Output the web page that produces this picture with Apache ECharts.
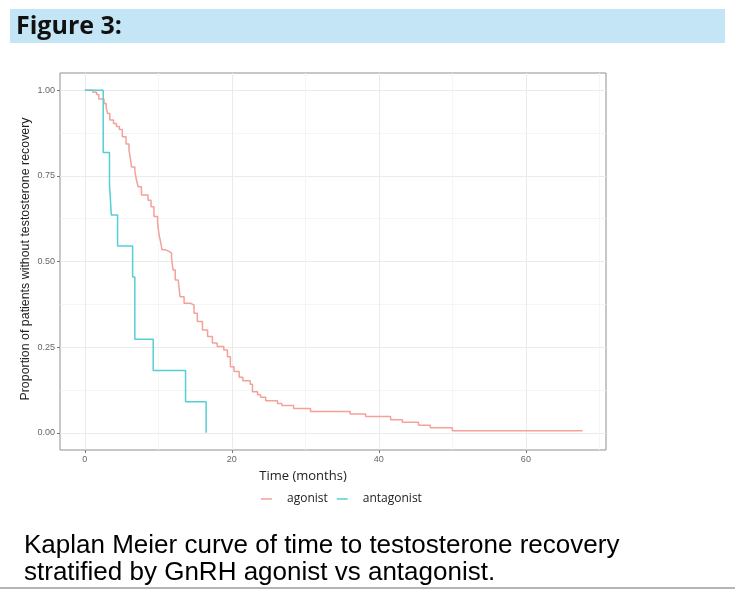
<!DOCTYPE html>
<html>
<head>
<meta charset="utf-8">
<script src="https://cdn.jsdelivr.net/npm/echarts@6.0.0/dist/echarts.min.js"></script>
<style>
html, body { margin: 0; padding: 0; background: #fff; }
#km_recovery { width: 735px; height: 590px; }
</style>
</head>
<body>
<div id="km_recovery"></div>
<script>
// values (time in months, proportion without recovery)
var agonistTime = [0, 1.1, 1.6, 1.9, 2.6, 2.9, 3.1, 3.4, 3.9, 4.3, 4.7, 5.1, 5.6, 6.0, 6.2, 6.35, 6.8, 7.0, 7.25, 7.7,
    8.6, 9.0, 9.4, 9.9, 10.1, 10.3, 10.5, 11.0, 11.5, 11.8, 12.0, 12.3, 12.7, 12.95, 13.5, 14.4, 14.85, 15.3, 16.0, 16.7,
    17.35, 18.0, 18.9, 19.4, 19.8, 20.3, 21.0, 21.5, 22.5, 22.8, 23.5, 23.9, 24.6, 26.2, 26.8, 28.4, 30.7, 36.1, 38.2,
    41.6, 43.2, 45.4, 47.0, 50.0, 67.7];
var agonistSurv = [1, 0.994, 0.987, 0.974, 0.961, 0.949, 0.932, 0.913, 0.903, 0.894, 0.885, 0.864, 0.843, 0.825, 0.80, 0.776, 0.764, 0.74, 0.718, 0.694,
    0.679, 0.660, 0.631, 0.611, 0.577, 0.558, 0.534, 0.529, 0.524, 0.509, 0.475, 0.446, 0.441, 0.397, 0.378, 0.373, 0.349, 0.325, 0.300, 0.281,
    0.262, 0.252, 0.242, 0.222, 0.193, 0.179, 0.162, 0.152, 0.142, 0.120, 0.111, 0.104, 0.094, 0.086, 0.080, 0.071, 0.062, 0.055, 0.048,
    0.038, 0.031, 0.022, 0.015, 0.006, 0.006];

var antagonistTime = [0, 2.5, 3.35, 3.6, 4.45, 6.5, 6.8, 9.3, 13.7, 16.5];
var antagonistSurv = [1, 0.818, 0.727, 0.636, 0.545, 0.455, 0.273, 0.182, 0.091, 0];

var groupNames = ['agonist', 'antagonist'];
var xTicks = [0, 20, 40, 60];
var xMinor = [10, 30, 50, 70];
var yTicks = [0, 0.25, 0.5, 0.75, 1];
var yMinor = [0.125, 0.375, 0.625, 0.875];

var km_plot = function()
{
    var pairs = function(t, s) {
        var out = [];
        for (var i = 0; i < t.length; i++) {
            out.push([t[i], s[i]]);
        }
        return out;
    };

    var draw_km = function() {
        var myChart = echarts.init(document.getElementById('km_recovery'));
        var gridLine = { show: true, lineStyle: { color: '#ebebeb', width: 1 } };
        var minorLine = { show: true, lineStyle: { color: '#f3f3f3', width: 0.8 } };
        var option = {
            backgroundColor: '#fff',
            animation: false,
            color: ['#f3a199', '#55cfd3'],
            grid: {
                left: 60,
                top: 73,
                width: 546,
                height: 377,
                show: true,
                borderColor: '#8f8f8f',
                borderWidth: 1
            },
            legend: {
                data: groupNames,
                left: 256,
                top: 488,
                icon: 'rect',
                itemWidth: 11,
                itemHeight: 1.5,
                itemGap: 9,
                textStyle: {
                    fontFamily: 'Open Sans',
                    fontSize: 12,
                    color: '#222',
                    padding: [0, 0, 0, 10]
                }
            },
            xAxis: [
                {
                    type: 'value',
                    min: -3.38,
                    max: 70.9,
                    axisLine: { show: false, onZero: false },
                    axisTick: { show: true, length: 3, lineStyle: { color: '#777' }, customValues: xTicks },
                    axisLabel: { customValues: xTicks, fontSize: 9, color: '#666', margin: 5, fontFamily: 'Liberation Sans' },
                    splitLine: gridLine
                },
                {
                    type: 'value',
                    min: -3.38,
                    max: 70.9,
                    position: 'bottom',
                    axisLine: { show: false, onZero: false },
                    axisTick: { show: false, customValues: xMinor },
                    axisLabel: { show: false, customValues: xMinor },
                    splitLine: minorLine
                }
            ],
            yAxis: [
                {
                    type: 'value',
                    min: -0.05,
                    max: 1.05,
                    axisLine: { show: false, onZero: false },
                    axisTick: { show: true, length: 3, lineStyle: { color: '#777' }, customValues: yTicks },
                    axisLabel: {
                        customValues: yTicks, fontSize: 9, color: '#666', margin: 5, fontFamily: 'Liberation Sans',
                        formatter: function (v) { return v.toFixed(2); }
                    },
                    splitLine: gridLine
                },
                {
                    type: 'value',
                    min: -0.05,
                    max: 1.05,
                    position: 'left',
                    axisLine: { show: false, onZero: false },
                    axisTick: { show: false, customValues: yMinor },
                    axisLabel: { show: false, customValues: yMinor },
                    splitLine: minorLine
                }
            ],
            series: [
                {
                    name: groupNames[0],
                    type: 'line',
                    step: 'end',
                    showSymbol: false,
                    lineStyle: { width: 1.5 },
                    data: pairs(agonistTime, agonistSurv)
                },
                {
                    name: groupNames[1],
                    type: 'line',
                    step: 'end',
                    showSymbol: false,
                    lineStyle: { width: 1.5 },
                    data: pairs(antagonistTime, antagonistSurv)
                }
            ],
            graphic: [
                { type: 'rect', shape: { x: 10, y: 9, width: 715, height: 34 }, style: { fill: '#c3e5f5' } },
                { type: 'text', x: 16, y: 27, style: { text: 'Figure 3:', font: 'bold 25px "Open Sans"', fill: '#111',
                    align: 'left', verticalAlign: 'middle', textAlign: 'left', textVerticalAlign: 'middle' } },
                { type: 'text', x: 26, y: 259, rotation: Math.PI / 2, style: { text: 'Proportion of patients without testosterone recovery',
                    font: '12.4px "Liberation Sans"', fill: '#222', align: 'center', verticalAlign: 'middle', textAlign: 'center', textVerticalAlign: 'middle' } },
                { type: 'text', x: 303, y: 476, style: { text: 'Time (months)', font: '13px "Open Sans"', fill: '#222',
                    align: 'center', verticalAlign: 'middle', textAlign: 'center', textVerticalAlign: 'middle' } },
                { type: 'text', x: 24, y: 546, style: { text: 'Kaplan Meier curve of time to testosterone recovery',
                    font: '26px "Liberation Sans"', fill: '#000', align: 'left', verticalAlign: 'middle', textAlign: 'left', textVerticalAlign: 'middle' } },
                { type: 'text', x: 24, y: 573, style: { text: 'stratified by GnRH agonist vs antagonist.',
                    font: '26px "Liberation Sans"', fill: '#000', align: 'left', verticalAlign: 'middle', textAlign: 'left', textVerticalAlign: 'middle' } },
                { type: 'rect', shape: { x: 0, y: 587, width: 735, height: 2 }, style: { fill: '#b5b5b5' } }
            ]
        };
        myChart.setOption(option);
    };

    return {
        init: function () {
            draw_km();
        }
    };
}();

window.onload = function() {
    km_plot.init();
};
</script>
</body>
</html>
